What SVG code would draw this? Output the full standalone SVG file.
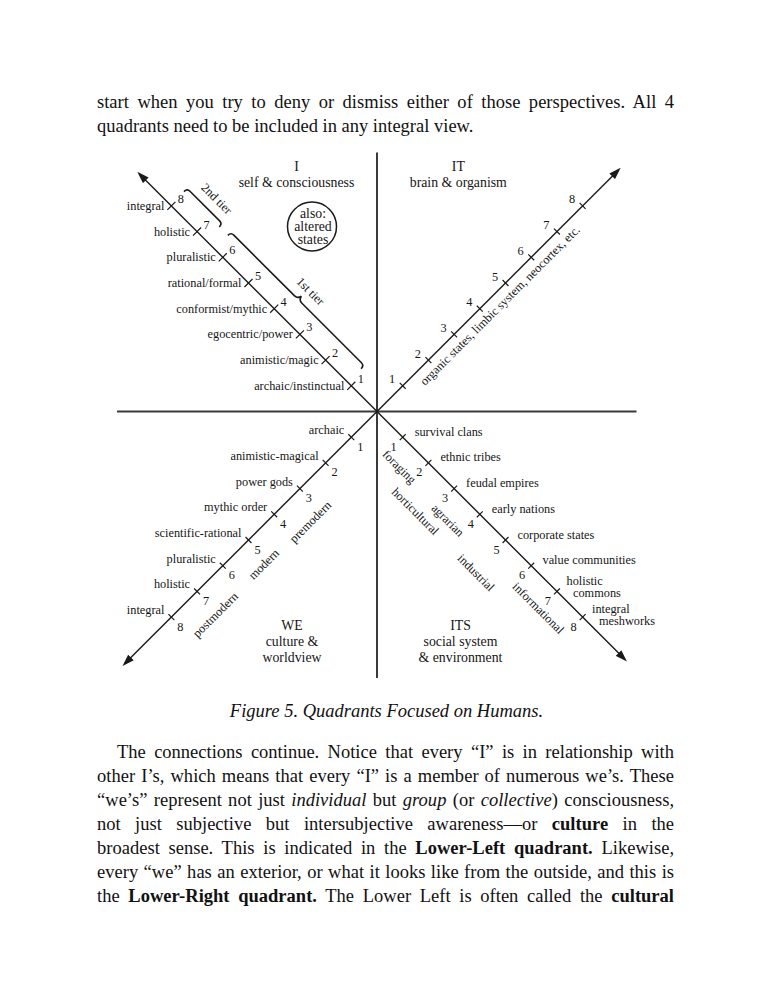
<svg xmlns="http://www.w3.org/2000/svg" width="772" height="1000" viewBox="0 0 772 1000">
<defs>
<style>
.body{font-family:"Liberation Serif","Times New Roman",serif;font-size:18.5px;fill:#111}
.cap{font-family:"Liberation Serif","Times New Roman",serif;font-size:18.5px;font-style:italic;fill:#111;text-anchor:middle}
.lb{font-family:"Liberation Serif","Times New Roman",serif;font-size:12.3px;fill:#161616}
.tt{font-family:"Liberation Serif","Times New Roman",serif;font-size:13.8px;fill:#161616;text-anchor:middle}
.e{text-anchor:end}
.m{text-anchor:middle}
.ax{stroke:#3a3a3a;stroke-width:2;fill:none}
.dg{stroke:#1a1a1a;stroke-width:1.4;fill:none}
.tk{stroke:#1a1a1a;stroke-width:1.2;fill:none}
.br{stroke:#1a1a1a;stroke-width:1.6;fill:none}
</style>
<marker id="ah" viewBox="0 0 12 8" refX="9" refY="4" markerWidth="12" markerHeight="8" markerUnits="userSpaceOnUse" orient="auto"><path d="M0,0 L12,4 L0,8 Z" fill="#1a1a1a"/></marker>
</defs>
<rect width="772" height="1000" fill="#fff"/>

<g id="text-top">
<text class="body" x="97" y="108" textLength="577" lengthAdjust="spacing" word-spacing="3.8">start when you try to deny or dismiss either of those perspectives. All 4</text>
<text class="body" x="97" y="132">quadrants need to be included in any integral view.</text>
</g>

<g id="connectors">
<line class="ax" x1="377" y1="152.5" x2="377" y2="678"/>
<line class="ax" x1="117" y1="411.5" x2="636.5" y2="411.5"/>
<g transform="translate(377,411.5) rotate(-135)">
<path class="dg" d="M0,0 H336" marker-end="url(#ah)"/>
<path class="tk" d="M36.35,-5.7V5.7M72.7,-5.7V5.7M109.05,-5.7V5.7M145.4,-5.7V5.7M181.75,-5.7V5.7M218.1,-5.7V5.7M254.45,-5.7V5.7M290.8,-5.7V5.7"/>
</g>
<g transform="translate(377,411.5) rotate(-45)">
<path class="dg" d="M0,0 H341.6" marker-end="url(#ah)"/>
<path class="tk" d="M36.35,-4.2V4.2M72.7,-4.2V4.2M109.05,-4.2V4.2M145.4,-4.2V4.2M181.75,-4.2V4.2M218.1,-4.2V4.2M254.45,-4.2V4.2M290.8,-4.2V4.2"/>
</g>
<g transform="translate(377,411.5) rotate(135)">
<path class="dg" d="M0,0 H356.9" marker-end="url(#ah)"/>
<path class="tk" d="M36.35,-4.2V4.2M72.7,-4.2V4.2M109.05,-4.2V4.2M145.4,-4.2V4.2M181.75,-4.2V4.2M218.1,-4.2V4.2M254.45,-4.2V4.2M290.8,-4.2V4.2"/>
</g>
<g transform="translate(377,411.5) rotate(45)">
<path class="dg" d="M0,0 H350.5" marker-end="url(#ah)"/>
<path class="tk" d="M36.35,-4.2V4.2M72.7,-4.2V4.2M109.05,-4.2V4.2M145.4,-4.2V4.2M181.75,-4.2V4.2M218.1,-4.2V4.2M254.45,-4.2V4.2M290.8,-4.2V4.2"/>
</g>
</g>

<g id="q-I">
<text class="tt" x="296.5" y="170.5">I</text>
<text class="tt" x="296.5" y="187">self &amp; consciousness</text>
<g id="altered-states">
<circle cx="312" cy="226.5" r="24.5" fill="none" stroke="#1a1a1a" stroke-width="1.5"/>
<text class="tt" x="313" y="217.5">also:</text>
<text class="tt" x="313" y="230.5">altered</text>
<text class="tt" x="313" y="243.5">states</text>
</g>
<g transform="translate(377,411.5) rotate(45)">
<path class="br" d="M-292,-19 Q-292,-23.5 -288,-23.5 L-246,-23.5 Q-242,-23.5 -242,-19"/>
<path class="br" d="M-230,-19 Q-230,-23.5 -226,-23.5 L-140,-23.5 Q-136,-23.5 -135,-28 Q-134,-23.5 -130,-23.5 L-45.5,-23.5 Q-41.5,-23.5 -41.5,-19"/>
<text class="lb m" x="-263.8" y="-33">2nd tier</text>
<text class="lb m" x="-132" y="-34">1st tier</text>
</g>
<text class="lb e" x="344.3" y="389.8">archaic/instinctual</text>
<text class="lb e" x="318.6" y="364.1">animistic/magic</text>
<text class="lb e" x="292.9" y="338.4">egocentric/power</text>
<text class="lb e" x="267.2" y="312.7">conformist/mythic</text>
<text class="lb e" x="241.5" y="287">rational/formal</text>
<text class="lb e" x="215.8" y="261.3">pluralistic</text>
<text class="lb e" x="190.1" y="235.6">holistic</text>
<text class="lb e" x="164.4" y="209.9">integral</text>
<text class="lb m" x="360.8" y="382.8">1</text>
<text class="lb m" x="335.1" y="357.1">2</text>
<text class="lb m" x="309.4" y="331.4">3</text>
<text class="lb m" x="283.7" y="305.7">4</text>
<text class="lb m" x="258" y="280">5</text>
<text class="lb m" x="232.3" y="254.3">6</text>
<text class="lb m" x="206.6" y="228.6">7</text>
<text class="lb m" x="180.9" y="202.9">8</text>
</g>

<g id="q-IT">
<text class="tt" x="458.3" y="170.5">IT</text>
<text class="tt" x="458.3" y="187">brain &amp; organism</text>
<text class="lb" transform="translate(377,411.5) rotate(-45)" x="52" y="16">organic states, limbic system, neocortex, etc.</text>
<text class="lb m" x="392.2" y="383.3">1</text>
<text class="lb m" x="417.9" y="357.6">2</text>
<text class="lb m" x="443.6" y="331.9">3</text>
<text class="lb m" x="469.3" y="306.2">4</text>
<text class="lb m" x="495" y="280.5">5</text>
<text class="lb m" x="520.7" y="254.8">6</text>
<text class="lb m" x="546.4" y="229.1">7</text>
<text class="lb m" x="572.1" y="203.4">8</text>
</g>

<g id="q-WE">
<text class="tt" x="292" y="630">WE</text>
<text class="tt" x="292" y="646">culture &amp;</text>
<text class="tt" x="292" y="662">worldview</text>
<text class="lb e" x="344.3" y="434.2">archaic</text>
<text class="lb e" x="318.6" y="459.9">animistic-magical</text>
<text class="lb e" x="292.9" y="485.6">power gods</text>
<text class="lb e" x="267.2" y="511.3">mythic order</text>
<text class="lb e" x="241.5" y="537">scientific-rational</text>
<text class="lb e" x="215.8" y="562.7">pluralistic</text>
<text class="lb e" x="190.1" y="588.4">holistic</text>
<text class="lb e" x="164.4" y="614.1">integral</text>
<text class="lb m" x="360.3" y="450.7">1</text>
<text class="lb m" x="334.6" y="476.4">2</text>
<text class="lb m" x="308.9" y="502.1">3</text>
<text class="lb m" x="283.2" y="527.8">4</text>
<text class="lb m" x="257.5" y="553.5">5</text>
<text class="lb m" x="231.8" y="579.2">6</text>
<text class="lb m" x="206.1" y="604.9">7</text>
<text class="lb m" x="180.4" y="630.6">8</text>
<g transform="translate(377,411.5) rotate(-45)">
<text class="lb m" x="-125" y="35">premodern</text>
<text class="lb m" x="-188" y="32">modern</text>
<text class="lb m" x="-258" y="33.5">postmodern</text>
</g>
</g>

<g id="q-ITS">
<text class="tt" x="460.5" y="630">ITS</text>
<text class="tt" x="460.5" y="646">social system</text>
<text class="tt" x="460.5" y="662">&amp; environment</text>
<text class="lb" x="414.7" y="435.7">survival clans</text>
<text class="lb" x="440.4" y="461.4">ethnic tribes</text>
<text class="lb" x="466.1" y="487.1">feudal empires</text>
<text class="lb" x="491.8" y="512.8">early nations</text>
<text class="lb" x="517.5" y="538.5">corporate states</text>
<text class="lb" x="542.5" y="564.2">value communities</text>
<text class="lb" x="566.5" y="585">holistic</text>
<text class="lb" x="573" y="597">commons</text>
<text class="lb" x="592" y="612.5">integral</text>
<text class="lb" x="599" y="625">meshworks</text>
<text class="lb m" x="393.7" y="450.7">1</text>
<text class="lb m" x="419.4" y="476.4">2</text>
<text class="lb m" x="445.1" y="502.1">3</text>
<text class="lb m" x="470.8" y="527.8">4</text>
<text class="lb m" x="496.5" y="553.5">5</text>
<text class="lb m" x="522.2" y="579.2">6</text>
<text class="lb m" x="547.9" y="604.9">7</text>
<text class="lb m" x="573.6" y="630.6">8</text>
<g transform="translate(377,411.5) rotate(45)">
<text class="lb m" x="55" y="27.5">foraging</text>
<text class="lb m" x="97.7" y="47.5">horticultural</text>
<text class="lb m" x="127" y="31">agrarian</text>
<text class="lb m" x="184" y="48">industrial</text>
<text class="lb m" x="253" y="29">informational</text>
</g>
</g>

<g id="text-bottom">
<text class="cap" x="386.5" y="717">Figure 5. Quadrants Focused on Humans.</text>
<text class="body" x="117" y="758" textLength="557" lengthAdjust="spacing" word-spacing="3.75">The connections continue. Notice that every “I” is in relationship with</text>
<text class="body" x="97" y="782" textLength="577" lengthAdjust="spacing" word-spacing="1.35">other I’s, which means that every “I” is a member of numerous we’s. These</text>
<text class="body" x="97" y="806" textLength="577" lengthAdjust="spacing" word-spacing="1.65">“we’s” represent not just <tspan font-style="italic">individual</tspan> but <tspan font-style="italic">group</tspan> (or <tspan font-style="italic">collective</tspan>) consciousness,</text>
<text class="body" x="97" y="830" textLength="577" lengthAdjust="spacing" word-spacing="9.8">not just subjective but intersubjective awareness—or <tspan font-weight="bold">culture</tspan> in the</text>
<text class="body" x="97" y="854" textLength="577" lengthAdjust="spacing" word-spacing="4.05">broadest sense. This is indicated in the <tspan font-weight="bold">Lower-Left quadrant.</tspan> Likewise,</text>
<text class="body" x="97" y="878" textLength="577" lengthAdjust="spacing" word-spacing="0.8">every “we” has an exterior, or what it looks like from the outside, and this is</text>
<text class="body" x="97" y="902" textLength="577" lengthAdjust="spacing" word-spacing="4">the <tspan font-weight="bold">Lower-Right quadrant.</tspan> The Lower Left is often called the <tspan font-weight="bold">cultural</tspan></text>
</g>
</svg>
